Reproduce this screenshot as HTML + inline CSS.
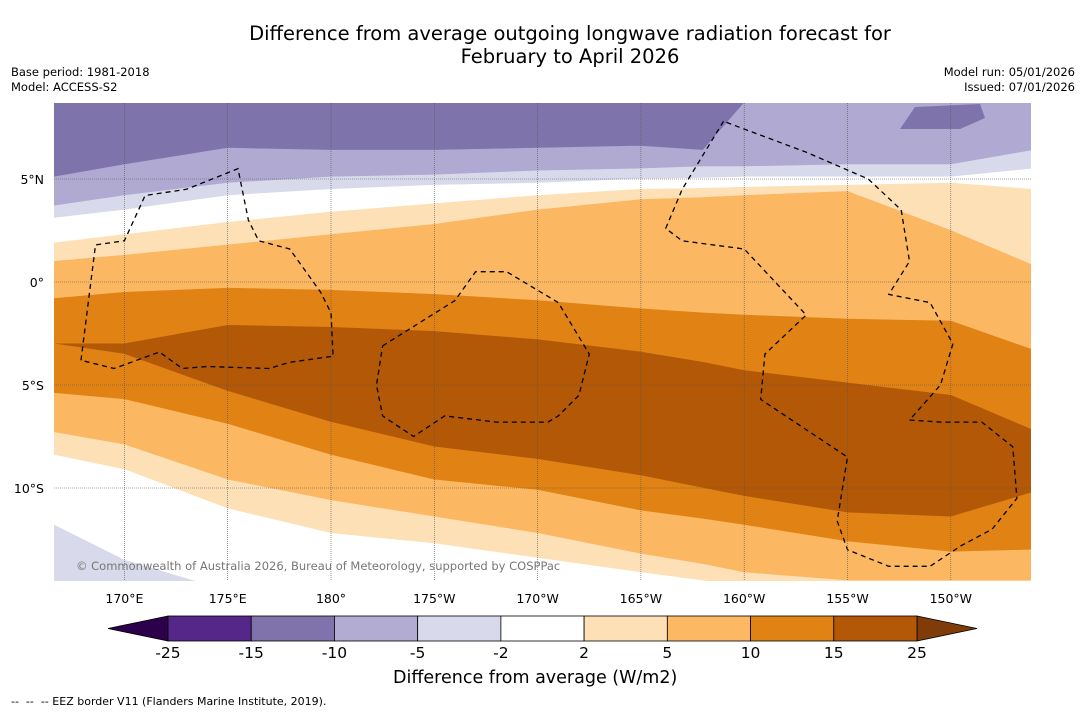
<!DOCTYPE html>
<html><head><meta charset="utf-8"><style>
body{margin:0;background:#fff;font-family:"DejaVu Sans","Liberation Sans",sans-serif;}
#wrap{position:relative;width:1085px;height:713px;overflow:hidden;background:#fff}
.t{position:absolute;white-space:nowrap;color:#000}
svg text{font-family:"DejaVu Sans","Liberation Sans",sans-serif}
</style></head><body>
<div id="wrap">
<div class="t" style="left:0;width:1140px;top:22px;text-align:center;font-size:19.5px;line-height:23px">Difference from average outgoing longwave radiation forecast for<br>February to April 2026</div>
<div class="t" style="left:11px;top:65px;font-size:11.5px;line-height:15px">Base period: 1981-2018<br>Model: ACCESS-S2</div>
<div class="t" style="right:10px;top:65px;font-size:11.5px;line-height:15px;text-align:right">Model run: 05/01/2026<br>Issued: 07/01/2026</div>
<svg id="svg" width="1085" height="713" style="position:absolute;left:0;top:0"></svg>
<div class="t" style="left:393px;top:668px;font-size:17.5px">Difference from average (W/m2)</div>
<div class="t" style="left:11px;top:695px;font-size:11px">--&nbsp; --&nbsp; -- EEZ border V11 (Flanders Marine Institute, 2019).</div>
</div>
<script>
// sample longitudes (degrees east, 0-360)
const lons=[166.6,170,175,180,185,190,195,198,200,205,210,214];
// contour boundary latitudes (top to bottom) at each sample longitude
const b1=[5.1,5.7,6.5,6.4,6.4,6.5,6.6,6.4,8.7,8.7,8.7,8.7];
const b2=[3.7,4.2,4.8,5.1,5.2,5.4,5.5,5.6,5.6,5.7,5.7,6.4];
const b3=[3.1,3.5,4.2,4.5,4.7,4.8,5.0,5.05,5.1,5.1,5.1,5.5];
const b4=[1.9,2.3,2.9,3.4,3.8,4.2,4.5,4.55,4.6,4.7,4.8,4.5];
const b5=[1.0,1.3,1.8,2.3,2.8,3.5,4.0,4.1,4.2,4.4,2.5,0.8];
const b6=[-0.8,-0.5,-0.3,-0.4,-0.6,-0.9,-1.3,-1.5,-1.6,-1.8,-1.9,-3.3];
const b7=[-3.0,-3.0,-2.1,-2.2,-2.4,-2.8,-3.4,-3.9,-4.3,-4.9,-5.5,-7.2];
const b8=[-3.0,-3.5,-5.3,-6.8,-8.0,-8.6,-9.4,-10.0,-10.4,-11.2,-11.4,-10.2];
const b9=[-5.4,-5.7,-6.9,-8.4,-9.6,-10.1,-11.1,-11.5,-11.8,-12.6,-13.1,-13.0];
const b10=[-7.3,-7.9,-9.6,-10.6,-11.4,-12.2,-13.2,-13.7,-14.1,-14.5,-14.5,-14.5];
const b11=[-8.4,-9.1,-11.0,-12.2,-12.7,-13.4,-14.1,-14.5,-14.8,-14.8,-14.8,-14.8];
const b12=[-11.8,-13.5,-15,-15,-15,-15,-15,-15,-15,-15,-15,-15];
const bandColors=['#7f73ac','#b0a9d1','#d8d9ea','#ffffff','#fde0b6','#fbb762','#e08214','#b35806','#e08214','#fbb762','#fde0b6','#ffffff','#d8d9ea'];
const cbLabels=['-25','-15','-10','-5','-2','2','5','10','15','25'];
const cbColors=['#542788','#8073ac','#b2abd2','#d8daeb','#ffffff','#fee0b6','#fdb863','#e08214','#b35806'];
const lonTicks=[170,175,180,185,190,195,200,205,210];
const lonLabels=['170°E','175°E','180°','175°W','170°W','165°W','160°W','155°W','150°W'];
const latTicks=[5,0,-5,-10];
const latLabels=['5°N','0°','5°S','10°S'];
const eez=[[[167.9,-3.8],[168.6,1.8],[170,2],[171,4.2],[173,4.5],[175.5,5.5],[176,3],[176.5,2],[178,1.6],[179.5,-0.5],[180,-1.5],[180.1,-3.6],[178,-3.9],[177,-4.2],[174,-4.1],[172.8,-4.2],[171.7,-3.4],[169.5,-4.2],[167.9,-3.8]],
[[182.5,-3.1],[186,-0.9],[187,0.5],[188.5,0.5],[191,-1],[192.5,-3.5],[192,-5.5],[191,-6.5],[190.5,-6.8],[188,-6.8],[185.5,-6.5],[184,-7.5],[182.5,-6.5],[182.2,-5],[182.5,-3.1]],
[[199,7.8],[197,4.5],[196.2,2.6],[197,2],[200,1.6],[203,-1.6],[201,-3.5],[200.8,-5.7],[205,-8.5],[204.5,-11.6],[205,-13],[207,-13.8],[209,-13.8],[210.5,-12.8],[212,-12],[213.2,-10.5],[213,-8],[211.5,-6.8],[209.5,-6.8],[208,-6.7],[209.5,-5],[210.1,-3],[209,-1],[207,-0.6],[208,1],[207.6,3.5],[206,5],[203,6.3],[199,7.8]]];
const X0=54,X1=1031,Y0=103,Y1=581;
function px(lon){return 331+(lon-180)*103.3/5;}
function py(lat){return 282-lat*103/5;}
const svg=document.getElementById('svg');const NS='http://www.w3.org/2000/svg';
function mk(t,a,p){const e=document.createElementNS(NS,t);for(const k in a)e.setAttribute(k,a[k]);(p||svg).appendChild(e);return e;}
const clip=mk('clipPath',{id:'mc'});mk('rect',{x:X0,y:Y0,width:X1-X0,height:Y1-Y0},clip);
const g=mk('g',{'clip-path':'url(#mc)'});


const bounds=[null,b1,b2,b3,b4,b5,b6,b7,b8,b9,b10,b11,b12,null];
function line(arr,def){return lons.map((l,i)=>[px(l),arr?py(arr[i]):def]);}
for(let i=0;i<bandColors.length;i++){
 const top=line(bounds[i],Y0-5), bot=line(bounds[i+1],Y1+5).reverse();
 const pts=top.concat(bot).map(p=>p[0].toFixed(1)+','+p[1].toFixed(1)).join(' ');
 const p=mk('polygon',{points:pts,fill:bandColors[i],stroke:bandColors[i],'stroke-width':0.6},g);
 
 
}
const dp=mk('polygon',{points:'900,129 915,107 980,104 985,118 960,129',fill:'#7f73ac'},g);


lonTicks.forEach((l,i)=>{const x=px(l);const ln=mk('line',{x1:x,x2:x,y1:Y0,y2:Y1,stroke:'#555','stroke-width':0.6,'stroke-dasharray':'1,1'},g);
 
 const t=mk('text',{x:x,y:603,'font-size':12.5,'text-anchor':'middle'});t.textContent=lonLabels[i];
 });
latTicks.forEach((l,i)=>{const y=py(l);const ln=mk('line',{x1:X0,x2:X1,y1:y,y2:y,stroke:'#555','stroke-width':0.6,'stroke-dasharray':'1,1'},g);
 
 const t=mk('text',{x:44,y:y+5,'font-size':12.5,'text-anchor':'end'});t.textContent=latLabels[i];
 });
eez.forEach(poly=>{const e=mk('polyline',{points:poly.map(p=>px(p[0]).toFixed(1)+','+py(p[1]).toFixed(1)).join(' '),fill:'none',stroke:'#000','stroke-width':1.3,'stroke-dasharray':'5,4'},g);
 });
const cp=mk('text',{x:76,y:570,'font-size':11.5,fill:'#777'},g);cp.textContent='© Commonwealth of Australia 2026, Bureau of Meteorology, supported by COSPPac';

const cb0=168,cbw=(917-168)/cbColors.length,cy=616,ch=25;
const lt=mk('polygon',{points:`${cb0},${cy} 108,${cy+ch/2} ${cb0},${cy+ch}`,fill:'#2d004b',stroke:'#000','stroke-width':0.8});

const rt=mk('polygon',{points:`917,${cy} 977,${cy+ch/2} 917,${cy+ch}`,fill:'#7f3b08',stroke:'#000','stroke-width':0.8});

cbColors.forEach((c,i)=>{const r=mk('rect',{x:cb0+i*cbw,y:cy,width:cbw,height:ch,fill:c,stroke:'#000','stroke-width':0.8});
 });
cbLabels.forEach((s,i)=>{const t=mk('text',{x:cb0+i*cbw,y:658,'font-size':15.5,'text-anchor':'middle'});t.textContent=s;
 });
</script>
</body></html>
